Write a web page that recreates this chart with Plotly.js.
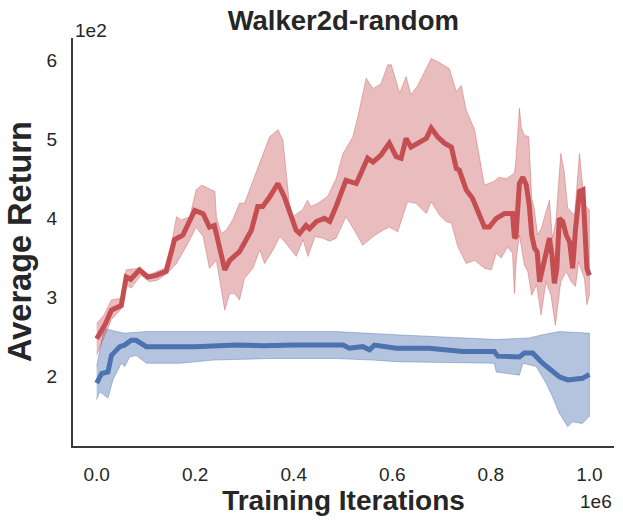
<!DOCTYPE html>
<html>
<head>
<meta charset="utf-8">
<script src="https://cdn.plot.ly/plotly-3.0.1.min.js"></script>
<style>
  html, body { margin: 0; padding: 0; background: #fff; }
  #myDiv { width: 623px; height: 522px; }
</style>
</head>
<body>
<div id="myDiv"></div>
<script>
// red run: mean curve and band (x in iterations, y = return)
var redX = [0, 18000, 30000, 50000, 60000, 69000, 87000, 104000, 121000, 141000, 158000, 175000, 199000, 216000, 229000, 239000, 260000, 270000, 290000, 314000, 327000, 337000, 351000, 368000, 381000, 405000, 412000, 425000, 432000, 446000, 462000, 473000, 486000, 506000, 527000, 537000, 550000, 561000, 577000, 594000, 608000, 618000, 628000, 638000, 652000, 669000, 679000, 692000, 706000, 720000, 730000, 736000, 750000, 763000, 787000, 797000, 811000, 828000, 844000, 848000, 851000, 858000, 865000, 872000, 878000, 883000, 889000, 894000, 899000, 906000, 912000, 919000, 924000, 929000, 934000, 939000, 946000, 953000, 960000, 966000, 972000, 980000, 987000, 992000, 995000, 1000000];
var redMean = [248, 267, 284, 290, 326, 323, 335, 326, 328, 333, 373, 379, 410, 406, 389, 391, 335, 347, 358, 385, 415, 415, 427, 444, 427, 385, 381, 391, 387, 396, 400, 396, 415, 448, 444, 457, 476, 471, 480, 495, 478, 476, 501, 490, 495, 501, 514, 503, 495, 490, 463, 461, 436, 425, 389, 389, 400, 406, 406, 375, 377, 444, 452, 442, 417, 379, 362, 358, 320, 341, 354, 375, 354, 318, 337, 400, 396, 379, 370, 337, 387, 434, 436, 375, 337, 328];

var redUpX = [0, 15000, 30000, 50000, 60000, 87000, 104000, 138000, 151000, 162000, 172000, 189000, 202000, 213000, 240000, 243000, 253000, 263000, 276000, 290000, 300000, 314000, 334000, 351000, 368000, 378000, 391000, 398000, 418000, 428000, 435000, 449000, 469000, 486000, 500000, 520000, 530000, 547000, 561000, 577000, 591000, 598000, 615000, 628000, 638000, 652000, 679000, 692000, 716000, 730000, 740000, 750000, 767000, 787000, 804000, 817000, 831000, 848000, 851000, 858000, 862000, 868000, 877000, 883000, 888000, 895000, 902000, 919000, 925000, 932000, 942000, 949000, 956000, 970000, 980000, 990000, 1000000];
var redUp = [267, 278, 297, 299, 335, 337, 328, 337, 364, 402, 398, 402, 436, 442, 434, 402, 381, 385, 398, 419, 419, 442, 474, 503, 512, 499, 419, 402, 411, 423, 415, 419, 428, 450, 482, 503, 528, 577, 564, 570, 594, 594, 558, 579, 556, 568, 602, 598, 589, 560, 568, 537, 512, 442, 446, 452, 450, 457, 474, 539, 514, 505, 503, 425, 413, 379, 387, 423, 375, 396, 482, 459, 413, 404, 482, 417, 411];

var redLoX = [0, 13000, 30000, 50000, 60000, 70000, 90000, 107000, 124000, 144000, 162000, 185000, 202000, 216000, 229000, 243000, 260000, 270000, 280000, 290000, 300000, 317000, 331000, 341000, 358000, 372000, 385000, 405000, 419000, 429000, 443000, 459000, 473000, 486000, 506000, 523000, 540000, 561000, 581000, 594000, 611000, 631000, 648000, 669000, 679000, 696000, 709000, 720000, 733000, 750000, 767000, 787000, 801000, 811000, 821000, 834000, 844000, 848000, 852000, 858000, 868000, 875000, 883000, 893000, 902000, 912000, 922000, 931000, 942000, 953000, 963000, 972000, 978000, 990000, 995000, 1000000];
var redLo = [227, 246, 272, 286, 316, 312, 328, 320, 322, 331, 343, 368, 389, 377, 337, 347, 284, 305, 305, 297, 324, 337, 360, 343, 360, 377, 368, 352, 373, 352, 377, 375, 371, 375, 402, 385, 366, 377, 385, 389, 383, 421, 419, 406, 421, 404, 396, 394, 364, 343, 347, 337, 335, 356, 350, 364, 356, 305, 350, 379, 341, 333, 303, 316, 278, 320, 303, 265, 320, 333, 320, 314, 345, 324, 291, 303];

// blue run
var blueX = [0, 10000, 23000, 30000, 47000, 57000, 70000, 80000, 101000, 150000, 200000, 283000, 340000, 400000, 486000, 500000, 513000, 540000, 554000, 564000, 608000, 675000, 743000, 807000, 814000, 858000, 868000, 885000, 905000, 939000, 956000, 986000, 1000000];
var blueMean = [192, 204, 206, 227, 238, 240, 246, 246, 238, 238, 238, 240, 239, 240, 240, 240, 236, 238, 234, 240, 236, 236, 232, 232, 226, 225, 230, 230, 217, 200, 196, 198, 203];

var blueUpX = [0, 15000, 40000, 57000, 101000, 300000, 486000, 608000, 811000, 878000, 905000, 939000, 1000000];
var blueUp = [213, 261, 257, 255, 257, 257, 257, 253, 247, 249, 253, 257, 255];

var blueLoX = [0, 6000, 23000, 33000, 50000, 57000, 67000, 80000, 101000, 169000, 236000, 351000, 486000, 561000, 608000, 807000, 811000, 858000, 865000, 892000, 912000, 925000, 939000, 956000, 966000, 986000, 1000000];
var blueLo = [171, 181, 173, 196, 217, 213, 225, 227, 217, 217, 221, 223, 223, 221, 219, 217, 206, 202, 217, 213, 192, 175, 154, 137, 143, 141, 150];

var xTicks = [0, 200000, 400000, 600000, 800000, 1000000];
var xTickText = ['0.0', '0.2', '0.4', '0.6', '0.8', '1.0'];
var yTicks = [200, 300, 400, 500, 600];
var yTickText = ['2', '3', '4', '5', '6'];

var red = '#C44E52';
var blue = '#4C72B0';
var fontFam = 'Liberation Sans, Arial, sans-serif';

function band(xu, yu, xl, yl, fillcol) {
  return {
    x: xu.concat(xl.slice().reverse()),
    y: yu.concat(yl.slice().reverse()),
    type: 'scatter',
    mode: 'lines',
    fill: 'toself',
    fillcolor: fillcol,
    line: {color: fillcol, width: 1},
    hoverinfo: 'skip',
    showlegend: false
  };
}

var data = [
  band(blueUpX, blueUp, blueLoX, blueLo, 'rgba(76,114,176,0.42)'),
  band(redUpX, redUp, redLoX, redLo, 'rgba(196,78,82,0.38)'),
  {x: blueX, y: blueMean, type: 'scatter', mode: 'lines',
   line: {color: blue, width: 5}, showlegend: false},
  {x: redX, y: redMean, type: 'scatter', mode: 'lines',
   line: {color: red, width: 5}, showlegend: false}
];

var tickFont = {family: fontFam, size: 19, color: '#262626'};

var layout = {
  width: 623,
  height: 522,
  margin: {l: 73, r: 9, t: 38, b: 76},
  paper_bgcolor: '#fff',
  plot_bgcolor: '#fff',
  showlegend: false,
  title: {
    text: '<b>Walker2d-random</b>',
    font: {family: fontFam, size: 27.5, color: '#262626'},
    x: 0.551, xanchor: 'center', y: 0.979, yanchor: 'top'
  },
  xaxis: {
    range: [-48000, 1050000],
    tickvals: xTicks, ticktext: xTickText,
    tickfont: tickFont,
    showgrid: false, zeroline: false,
    showline: true, linecolor: '#3a3a3a', linewidth: 2,
    ticks: '', ticklabelstandoff: 10,
    title: {text: '<b>Training Iterations</b>', standoff: 6,
            font: {family: fontFam, size: 28, color: '#262626'}}
  },
  yaxis: {
    range: [112.5, 627.8],
    tickvals: yTicks, ticktext: yTickText,
    tickfont: tickFont,
    showgrid: false, zeroline: false,
    showline: true, linecolor: '#3a3a3a', linewidth: 2,
    ticks: '', ticklabelstandoff: 10
  },
  annotations: [
    {text: '<b>Average Return</b>', xref: 'paper', yref: 'paper', x: 0, y: 0.5,
     xanchor: 'center', yanchor: 'middle', textangle: -90, xshift: -53,
     showarrow: false, font: {family: fontFam, size: 32.5, color: '#262626'}},
    {text: '1e2', xref: 'paper', yref: 'paper', x: 0, y: 1, xanchor: 'left', yanchor: 'bottom',
     showarrow: false, font: tickFont, yshift: -5},
    {text: '1e6', xref: 'paper', yref: 'paper', x: 1, y: 0, xanchor: 'right', yanchor: 'top',
     showarrow: false, font: tickFont, yshift: -43}
  ]
};

Plotly.newPlot('myDiv', data, layout, {displayModeBar: false, staticPlot: true});
</script>
</body>
</html>
